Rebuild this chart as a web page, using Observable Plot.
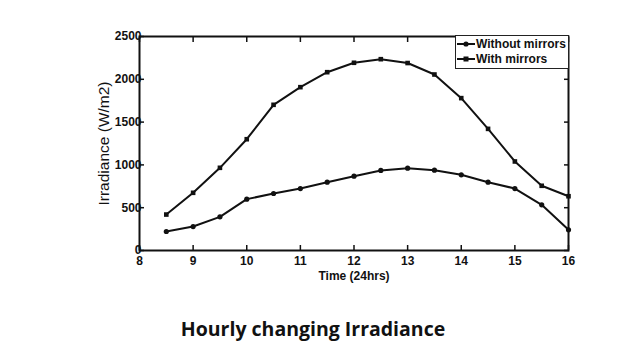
<!DOCTYPE html>
<html><head><meta charset="utf-8">
<script src="https://cdn.jsdelivr.net/npm/d3@7"></script>
<script src="https://cdn.jsdelivr.net/npm/@observablehq/plot@0.6"></script>
<style>
body{margin:0;background:#fff;width:638px;height:359px;overflow:hidden;position:relative;font-family:"Liberation Sans",Arial,sans-serif;}
#legend{position:absolute;left:455px;top:35px;width:112px;height:32px;border:1px solid #222;background:#fff;font:bold 12px "Liberation Sans",Arial,sans-serif;color:#111;}
#legend div{position:absolute;left:1px;height:14px;line-height:14px;white-space:nowrap;}
#legend svg{vertical-align:middle;margin-right:1px;position:relative;top:-1px;}
#caption{position:absolute;left:0;width:626px;top:315px;text-align:center;font:bold 19.5px "Open Sans",Lato,sans-serif;color:#111;}
</style></head>
<body>
<div id="chart"></div>
<div id="legend"></div>
<div id="caption">Hourly changing Irradiance</div>
<script>
const hours = [8.5,9,9.5,10,10.5,11,11.5,12,12.5,13,13.5,14,14.5,15,15.5,16];
const withoutMirrors = [222,280,393,600,666,724,798,868,935,962,938,884,798,724,534,242];
const withMirrors = [420,674,966,1300,1702,1908,2083,2193,2235,2190,2056,1780,1421,1040,756,634];
const seriesNames = ["Without mirrors","With mirrors"];
const xTicks = [8,9,10,11,12,13,14,15,16];
const yTicks = [0,500,1000,1500,2000,2500];

const rowsA = hours.map((h,i)=>({x:h,y:withoutMirrors[i]}));
const rowsB = hours.map((h,i)=>({x:h,y:withMirrors[i]}));
const fmt = d3.format("d");

const plot = Plot.plot({
  width: 638, height: 292,
  marginLeft: 139, marginRight: 70, marginTop: 36, marginBottom: 42,
  style: {fontFamily: '"Liberation Sans", Arial, sans-serif', fontSize: "11px", fontWeight: "bold", color: "#111"},
  x: {domain: [8,16]},
  y: {domain: [0,2500]},
  marks: [
    Plot.axisX({anchor:"bottom", ticks: xTicks, tickFormat: fmt, tickSize: -5, tickPadding: 11, fontSize: 12, label: null, strokeWidth: 1.5}),
    Plot.axisX({anchor:"bottom", ticks: [], label: "Time (24hrs)", labelAnchor: "center", labelArrow: "none", labelOffset: 29, fontSize: 12}),
    Plot.axisX({anchor:"top", ticks: xTicks, tickSize: -5, tickFormat: () => "", label: null, strokeWidth: 1.5}),
    Plot.axisY({anchor:"left", ticks: yTicks, tickFormat: fmt, tickSize: -5, tickPadding: 3, fontSize: 12, label: null, strokeWidth: 1.5}),
    Plot.axisY({anchor:"left", ticks: [], label: "Irradiance (W/m2)", labelAnchor: "center", labelArrow: "none", labelOffset: 42, fontSize: 15.5, fontWeight: "normal"}),
    Plot.axisY({anchor:"right", ticks: yTicks, tickSize: -5, tickFormat: () => "", label: null, strokeWidth: 1.5}),
    Plot.frame({stroke: "#111", strokeWidth: 2}),
    Plot.line(rowsB, {x:"x", y:"y", stroke:"#111", strokeWidth: 2}),
    Plot.line(rowsA, {x:"x", y:"y", stroke:"#111", strokeWidth: 2}),
    Plot.dot(rowsB, {x:"x", y:"y", symbol:"square", r: 2.6, fill:"#111", stroke:"none"}),
    Plot.dot(rowsA, {x:"x", y:"y", symbol:"circle", r: 2.6, fill:"#111", stroke:"none"})
  ]
});
document.getElementById("chart").appendChild(plot);

const leg = document.getElementById("legend");
seriesNames.forEach((name,i)=>{
  const d = document.createElement("div");
  d.style.top = (1 + i*15) + "px";
  const sym = i===0 ? '<circle cx="9" cy="5" r="2.6" fill="#111"/>' : '<rect x="6.5" y="2.5" width="5" height="5" fill="#111"/>';
  d.innerHTML = '<svg width="18" height="10"><line x1="0" x2="18" y1="5" y2="5" stroke="#111" stroke-width="2"/>'+sym+'</svg>' + name;
  leg.appendChild(d);
});
</script>
</body></html>
